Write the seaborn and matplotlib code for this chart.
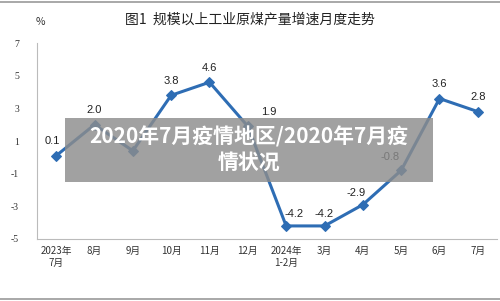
import matplotlib
matplotlib.use("Agg")
import matplotlib.pyplot as plt
import seaborn as sns
import pandas as pd
from matplotlib.patches import Rectangle
from matplotlib.lines import Line2D

months = ["2023年\n7月", "8月", "9月", "10月", "11月", "12月", "2024年\n1-2月", "3月", "4月", "5月", "6月", "7月"]
growth = [0.1, 2.0, 0.4, 3.8, 4.6, 1.9, -4.2, -4.2, -2.9, -0.8, 3.6, 2.8]
value_labels = ["0.1", "2.0", "", "3.8", "4.6", "1.9", "-4.2", "-4.2", "-2.9", "-0.8", "3.6", "2.8"]
y_ticks = [-5, -3, -1, 1, 3, 5, 7]
title = "图1  规模以上工业原煤产量增速月度走势"
overlay_lines = ["2020年7月疫情地区/2020年7月疫", "情状况"]
label_offsets = [(-3, 7), (0, 7), (0, 7), (0, 7), (0, 7), (15, 7), (6, 5), (0, 5), (-5, 5), (-8, 6), (0, 7), (0, 7)]

sns.set_theme(style="white")
plt.rcParams['font.family'] = ['Noto Sans CJK SC', 'DejaVu Sans']

df = pd.DataFrame({"x": range(len(months)), "y": growth})

fig = plt.figure(figsize=(5, 3.01), dpi=100)
ax = fig.add_axes([0.074, 0.206, 0.92, 0.651])
color = "#2E6DB4"
sns.lineplot(data=df, x="x", y="y", ax=ax, color=color, linewidth=2.2,
             marker="D", markersize=5.5, markeredgecolor=color)

ax.set_xlim(-0.5, len(months) - 0.5)
ax.set_ylim(-5, 7)
ax.set_yticks(y_ticks)
ax.set_yticklabels([str(t) for t in y_ticks], fontsize=7, family=['Liberation Serif', 'DejaVu Serif'])
ax.set_xticks(range(len(months)))
ax.set_xticklabels(months, fontsize=7, linespacing=1.3)
ax.set_xticks([i + 0.5 for i in range(len(months) - 1)], minor=True)
ax.tick_params(axis='x', which='major', length=0, pad=5, colors="#333333")
ax.tick_params(axis='x', which='minor', length=3, direction='in', color="#bbbbbb", width=0.8)
ax.tick_params(axis='y', which='major', length=3, direction='out', color="#bbbbbb", pad=10, colors="#333333")
for s in ["top", "right"]:
    ax.spines[s].set_visible(False)
for s in ["left", "bottom"]:
    ax.spines[s].set_color("#bbbbbb")
    ax.spines[s].set_linewidth(0.8)
ax.set_xlabel("")
ax.set_ylabel("")

for i, v in enumerate(growth):
    if not value_labels[i]:
        continue
    dx, dy = label_offsets[i]
    ax.annotate(value_labels[i], (i, v), xytext=(dx, dy), textcoords="offset points",
                ha="center", va="bottom", fontsize=8, color="#222222",
                family=['Liberation Sans', 'DejaVu Sans'])

fig.text(0.5, 0.935, title, ha="center", va="center", fontsize=10, color="#222222")
fig.text(0.08, 0.927, "%", ha="center", va="center", fontsize=7.5, color="#333333")

# overlay box
fig.patches.append(Rectangle((65 / 500, 1 - 182 / 301), (433 - 65) / 500, 64 / 301,
                             transform=fig.transFigure, facecolor="#8c8c8c", alpha=0.82,
                             edgecolor="none", zorder=10))
fig.text(249 / 500, 1 - 137 / 301, overlay_lines[0], ha="center", va="center", fontsize=15,
         fontweight="bold", color="white", zorder=11)
fig.text(249 / 500, 1 - 162 / 301, overlay_lines[1], ha="center", va="center", fontsize=15,
         fontweight="bold", color="white", zorder=11)

# frame lines
fig.add_artist(Line2D([0, 1], [1 - 1.5 / 301, 1 - 1.5 / 301], transform=fig.transFigure, color="#999999", linewidth=1.2))
fig.add_artist(Line2D([0, 1], [1 - 298.5 / 301, 1 - 298.5 / 301], transform=fig.transFigure, color="#999999", linewidth=1.2))

fig.savefig("out.png", dpi=100)
